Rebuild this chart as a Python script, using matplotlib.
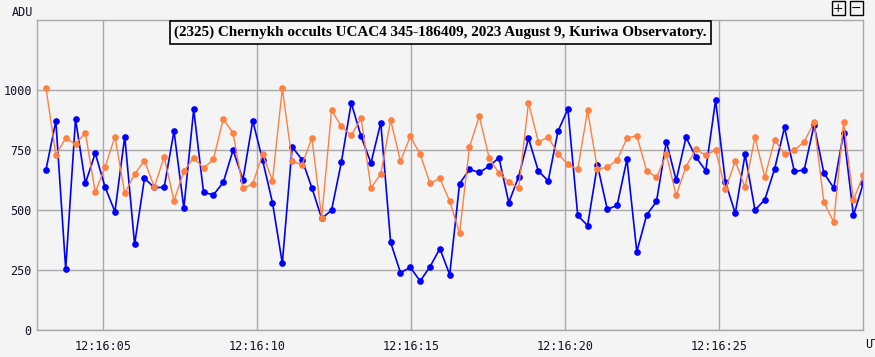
import matplotlib
matplotlib.use('Agg')
import matplotlib.pyplot as plt
from matplotlib.patches import Rectangle
import numpy as np

# frame timing (seconds after 12:16:00 UT)
FirstFrame = 3.14
FrameStep = 0.3197
XRange = (2.857, 29.675)

# target star (blue) and comparison star (orange), ADU
Target = [668, 871, 254, 879, 611, 737, 596, 493, 806, 357,
          632, 594, 594, 829, 508, 919, 574, 563, 615, 750,
          626, 872, 707, 531, 278, 763, 710, 593, 465, 499,
          700, 946, 807, 696, 864, 365, 239, 261, 204, 264,
          339, 231, 610, 669, 657, 682, 718, 531, 639, 799,
          663, 621, 829, 921, 478, 435, 688, 503, 519, 711,
          326, 479, 536, 785, 624, 803, 721, 664, 958, 617,
          486, 733, 500, 543, 672, 844, 661, 667, 854, 654,
          592, 822, 478, 611]
Comparison = [1008, 731, 799, 775, 822, 574, 679, 806, 569, 650,
              706, 596, 721, 539, 661, 718, 675, 711, 879, 821,
              590, 610, 733, 622, 1007, 704, 688, 801, 468, 915,
              849, 811, 883, 592, 651, 875, 704, 807, 732, 611,
              632, 537, 404, 761, 892, 718, 653, 618, 590, 947,
              785, 803, 735, 690, 669, 915, 671, 678, 708, 800,
              810, 664, 636, 732, 561, 681, 754, 728, 751, 586,
              704, 594, 804, 637, 793, 732, 749, 785, 865, 532,
              450, 865, 543, 644]

YTicks = [0, 250, 500, 750, 1000]
XTicks = [5, 10, 15, 20, 25]
XTickLabels = ['12:16:05', '12:16:10', '12:16:15', '12:16:20', '12:16:25']
Title = '(2325) Chernykh occults UCAC4 345-186409, 2023 August 9, Kuriwa Observatory.'

Times = FirstFrame + FrameStep * np.arange(len(Target))

bg = '#f4f4f4'
grid = '#a8a8a8'
mono = 'DejaVu Sans Mono'

figure = plt.figure(figsize = (8.75, 3.57), dpi = 100, facecolor = bg)
ax = figure.add_axes([0.0426, 0.0756, 0.944, 0.8684])
ax.set_facecolor(bg)

ax.plot(Times, Target, '-o', color = '#0000ff', lw = 1.2, ms = 3.8, mec = '#0000ff')
ax.plot(Times, Comparison, '-o', color = '#ff8040', lw = 1.0, ms = 3.8, mec = '#ff8040')

ax.set_xlim(*XRange)
ax.set_ylim(0, 1292)
ax.set_yticks(YTicks)
ax.set_xticks(XTicks)
ax.set_xticklabels(XTickLabels)
ax.grid(True, color = grid, lw = 1.0)
ax.set_axisbelow(True)
ax.tick_params(length = 0, labelsize = 8.5, colors = '#101028')
ax.tick_params(axis = 'x', pad = 7)
ax.tick_params(axis = 'y', pad = 4)
for lab in ax.get_xticklabels() + ax.get_yticklabels():
    lab.set_family(mono)
for s in ax.spines.values():
    s.set_color(grid)
    s.set_linewidth(1.0)

ax.text(0.488, 0.981, Title, transform = ax.transAxes, ha = 'center', va = 'top',
        family = 'Liberation Serif', fontweight = 'bold', fontsize = 10.9,
        bbox = dict(boxstyle = 'square,pad=0.3', fc = '#f6f6f6', ec = 'black', lw = 1.2))

figure.text(12 / 875, 1 - 13 / 357, 'ADU', family = mono, fontsize = 8.5,
            va = 'center', ha = 'left', color = '#101028')
figure.text(865 / 875, 1 - 344 / 357, 'UT', family = mono, fontsize = 8.5,
            va = 'center', ha = 'left', color = '#101028')

# zoom buttons in the corner
for x0, sym in [(831.5, '+'), (849.5, '\u2212')]:
    figure.patches.append(Rectangle((x0 / 875, 1 - 15 / 357), 13 / 875, 14 / 357,
                                    transform = figure.transFigure, fill = False,
                                    ec = 'black', lw = 1.0))
    figure.text((x0 + 6.5) / 875, 1 - 8 / 357, sym, ha = 'center', va = 'center',
                fontsize = 9, color = 'black')

figure.savefig('out.png', dpi = 100, facecolor = bg)
